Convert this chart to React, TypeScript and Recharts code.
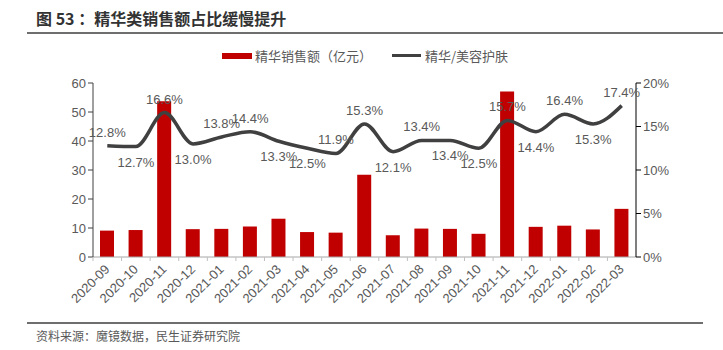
import { ComposedChart, Bar, Line, XAxis, YAxis, LabelList } from "recharts";

const months = [
  "2020-09", "2020-10", "2020-11", "2020-12", "2021-01", "2021-02", "2021-03",
  "2021-04", "2021-05", "2021-06", "2021-07", "2021-08", "2021-09", "2021-10",
  "2021-11", "2021-12", "2022-01", "2022-02", "2022-03",
];
const sales = [9.1, 9.3, 53.7, 9.6, 9.7, 10.5, 13.2, 8.6, 8.4, 28.4, 7.5, 9.8, 9.7, 8.0, 57.1, 10.4, 10.8, 9.5, 16.6];
const share = [12.8, 12.7, 16.6, 13.0, 13.8, 14.4, 13.3, 12.5, 11.9, 15.3, 12.1, 13.4, 13.4, 12.5, 15.7, 14.4, 16.4, 15.3, 17.4];
// label placement: true = above the point
const labelAbove = [true, false, true, false, true, true, false, false, true, true, false, true, false, false, true, false, true, false, true];

const leftTicks = [0, 10, 20, 30, 40, 50, 60];
const rightTicks = [0, 5, 10, 15, 20];

const data = months.map((m, i) => ({ month: m, sales: sales[i], share: share[i] }));

const FONT = "'Liberation Sans', 'Noto Sans CJK SC', sans-serif";
const GREY = "#595959";
const BAND = (723 - 93 - 87) / months.length;

function MonthTick(props: any) {
  const { x, y, payload } = props;
  return (
    <g>
      <line x1={x - BAND / 2} y1={y - 8} x2={x - BAND / 2} y2={y - 4} stroke="#bfbfbf" />
      <text
        x={x + 3}
        y={y + 5}
        transform={`rotate(-45, ${x + 3}, ${y + 5})`}
        textAnchor="end"
        fontSize={13}
        fill={GREY}
        fontFamily={FONT}
      >
        {payload.value}
      </text>
    </g>
  );
}

function ShareLabel(props: any) {
  const { x, y, index, value } = props;
  const above = labelAbove[index];
  return (
    <text
      x={x}
      y={above ? y - 9 : y + 20}
      textAnchor="middle"
      fontSize={13}
      fill={GREY}
      fontFamily={FONT}
    >
      {value.toFixed(1)}%
    </text>
  );
}

export default function App() {
  return (
    <div style={{ position: "absolute", left: 0, top: 0, width: 723, height: 350, background: "#fff", fontFamily: FONT }}>
      <div style={{ position: "absolute", left: 36, top: 6, fontSize: 16, fontWeight: "bold", color: "#333", fontFamily: "'Noto Sans CJK SC', sans-serif" }}>
        图 53 ：精华类销售额占比缓慢提升
      </div>
      <div style={{ position: "absolute", left: 27, top: 32, width: 696, height: 2, background: "#6e6e6e" }} />

      <div style={{ position: "absolute", left: 222, top: 46, display: "flex", alignItems: "center", fontSize: 13, color: GREY, fontFamily: "'Noto Sans CJK SC', sans-serif" }}>
        <span style={{ display: "inline-block", width: 30, height: 6, background: "#c00000", marginRight: 3 }} />
        <span>精华销售额（亿元）</span>
        <span style={{ display: "inline-block", width: 29, height: 3, background: "#404040", marginLeft: 20, marginRight: 4 }} />
        <span>精华/美容护肤</span>
      </div>

      <div style={{ position: "absolute", left: 0, top: 40 }}>
        <ComposedChart width={723} height={280} data={data} margin={{ top: 43, right: 0, bottom: 0, left: 0 }}>
          <XAxis
            dataKey="month"
            interval={0}
            height={63}
            tick={<MonthTick />}
            tickLine={false}
            axisLine={{ stroke: "#a6a6a6" }}
          />
          <YAxis
            yAxisId="left"
            width={93}
            domain={[0, 60]}
            ticks={leftTicks}
            tick={{ fontSize: 13, fill: GREY, fontFamily: FONT }}
            tickLine={{ stroke: "#404040" }}
            tickSize={5}
            axisLine={{ stroke: "#404040" }}
          />
          <YAxis
            yAxisId="right"
            orientation="right"
            width={87}
            domain={[0, 20]}
            ticks={rightTicks}
            tickFormatter={(v: number) => `${v}%`}
            tick={{ fontSize: 13, fill: GREY, fontFamily: FONT }}
            tickLine={{ stroke: "#000" }}
            tickSize={5}
            axisLine={{ stroke: "#000" }}
          />
          <Bar yAxisId="left" dataKey="sales" fill="#c00000" barSize={14} isAnimationActive={false} />
          <Line
            yAxisId="right"
            dataKey="share"
            type="monotone"
            stroke="#404040"
            strokeWidth={3.5}
            dot={false}
            isAnimationActive={false}
          >
            <LabelList dataKey="share" content={<ShareLabel />} />
          </Line>
        </ComposedChart>
      </div>

      <div style={{ position: "absolute", left: 27, top: 322, width: 676, height: 2, background: "#6e6e6e" }} />
      <div style={{ position: "absolute", left: 36, top: 327, fontSize: 12, color: GREY, fontFamily: "'Noto Sans CJK SC', sans-serif" }}>
        资料来源：魔镜数据，民生证券研究院
      </div>
    </div>
  );
}
